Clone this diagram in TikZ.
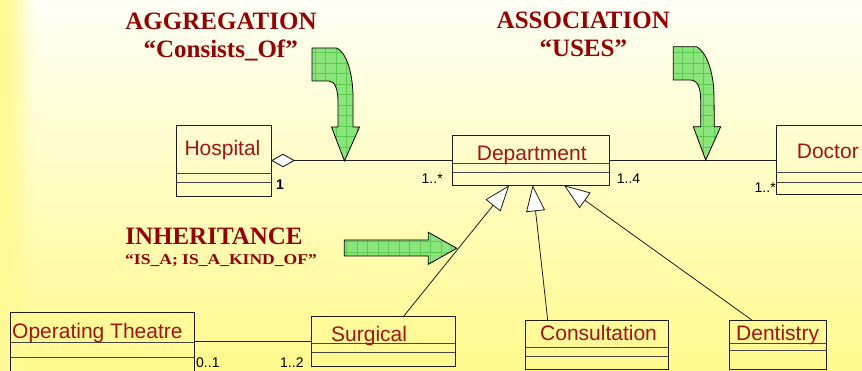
\documentclass[tikz,border=0pt]{standalone}
\usepackage{fontspec}
\setmainfont{Liberation Serif}
\newfontfamily\umlfont{Liberation Sans}
\usetikzlibrary{arrows.meta,fadings}

\definecolor{bgtop}{RGB}{255,255,246}
\definecolor{bgmid}{RGB}{255,255,210}
\definecolor{bgbot}{RGB}{255,250,140}
\definecolor{stripcol}{RGB}{255,250,150}
\definecolor{titlered}{RGB}{150,0,0}
\definecolor{classred}{RGB}{165,20,20}
\definecolor{boxline}{RGB}{30,30,30}
\definecolor{divline}{RGB}{70,70,70}
\definecolor{arrowgreen}{RGB}{140,228,125}
\definecolor{gridgreen}{RGB}{88,205,78}

% green block arrow: fill, clipped grid, outline
\newcommand\gridarrow[1]{%
  \fill[arrowgreen] #1;
  \begin{scope}
    \clip #1;
    \draw[gridgreen, line width=0.5pt, step=10.5pt] (300,30) grid (740,280);
  \end{scope}
  \draw[black, line width=0.8pt, line join=miter] #1;}

\begin{document}
\begin{tikzpicture}[x=1pt, y=-1pt,
  title/.style={font=\bfseries\fontsize{25}{29}\selectfont, text=titlered, inner sep=0pt, anchor=base},
  subtitle/.style={font=\bfseries\fontsize{15}{17}\selectfont, text=titlered, inner sep=0pt, anchor=base},
  classbox/.style={draw=boxline, line width=0.9pt, inner sep=0pt, outer sep=0pt, anchor=north west},
  divider/.style={draw=divline, line width=0.9pt},
  classname/.style={font=\umlfont\fontsize{21}{24}\selectfont, text=classred, inner sep=0pt, anchor=base west},
  mult/.style={font=\umlfont\fontsize{14}{16}\selectfont, inner sep=0pt, anchor=base west},
  link/.style={draw=boxline, line width=0.9pt},
  aggregation/.style={link, {Diamond[open, length=24pt, width=13.5pt, fill=white, line width=0.9pt]}-},
  inherit/.style={link, line width=0.8pt, -{Triangle[open, length=26pt, width=19pt, fill=white, line width=0.8pt]}}
]
\useasboundingbox (0,0) rectangle (862,371);
\begin{scope}
\clip (0,0) rectangle (862,371);

% background
\shade[top color=bgtop, middle color=bgmid, bottom color=bgbot] (0,0) rectangle (862,371);
\fill[stripcol] (0,0) rectangle (8,371);
\fill[stripcol, path fading=east] (8,0) rectangle (34,371);

% headings
\node[title] (aggT) at (221,29.3) {AGGREGATION};
\node[title] (aggS) at (220.7,58) {“Consists\_Of”};
\node[title] (assT) at (583.3,28.3) {ASSOCIATION};
\node[title] (assS) at (583.3,56.7) {“USES”};
\node[title] (inhT) at (214,244.3) {INHERITANCE};
\node[subtitle] (inhS) at (221,264.3) {\scalebox{1.17}[1]{“IS\_A; IS\_A\_KIND\_OF”}};

% classes
\node[classbox, minimum width=95pt, minimum height=71pt] (hosp) at (176,125) {};
\draw[divider] (176,173.3) -- (271,173.3) (176,182.3) -- (271,182.3);
\node[classname] (hospN) at (184.3,156) {Hospital};

\node[classbox, minimum width=156.5pt, minimum height=49.6pt] (dept) at (452.5,135.7) {};
\draw[divider] (452.5,163.3) -- (609,163.3) (452.5,172.3) -- (609,172.3);
\node[classname] (deptN) at (476.7,160.5) {Department};

\node[classbox, minimum width=100pt, minimum height=68.3pt] (doc) at (776,125.7) {};
\draw[divider] (776,172.7) -- (876,172.7) (776,182) -- (876,182);
\node[classname] (docN) at (796.7,158.3) {Doctor};

\node[classbox, minimum width=183.3pt, minimum height=70pt] (ot) at (10.7,312.7) {};
\draw[divider] (10.7,342.7) -- (194,342.7) (10.7,357.7) -- (194,357.7);
\node[classname] (otN) at (12,338.3) {Operating Theatre};

\node[classbox, minimum width=143.3pt, minimum height=49.3pt] (surg) at (311.7,316.7) {};
\draw[divider] (311.7,343.3) -- (455,343.3) (311.7,352.3) -- (455,352.3);
\node[classname] (surgN) at (331,341.7) {Surgical};

\node[classbox, minimum width=142.6pt, minimum height=49.3pt] (cons) at (525.7,320) {};
\draw[divider] (525.7,347.3) -- (668.3,347.3) (525.7,356.7) -- (668.3,356.7);
\node[classname] (consN) at (540,340.7) {Consultation};

\node[classbox, minimum width=97.7pt, minimum height=49.3pt] (dent) at (729,320) {};
\draw[divider] (729,343.3) -- (826.7,343.3) (729,350.7) -- (826.7,350.7);
\node[classname] (dentN) at (736,340.7) {Dentistry};

% associations
\draw[aggregation] (hosp) -- (dept);
\draw[link] (dept.east) -- (dept.east -| doc.west);
\draw[link] (ot.east |- surg.west) -- (surg.west);

% multiplicities
\node[mult, font=\umlfont\bfseries\fontsize{14}{16}\selectfont] (m1) at (276,190) {1};
\node[mult] (m2) at (421.5,184) {1..*};
\node[mult] (m3) at (616.7,184) {1..4};
\node[mult] (m4) at (754.5,192.5) {1..*};
\node[mult] (m5) at (196,367) {0..1};
\node[mult] (m6) at (280,367) {1..2};

% generalisations
\coordinate (gS) at (403.3,316.7);
\coordinate (gC) at (547.7,320);
\coordinate (gD) at (751.7,320);
\coordinate (tS) at (509.3,185.3);
\coordinate (tC) at (532.7,185.3);
\coordinate (tD) at (564,185.3);
\draw[inherit] (gS) -- (tS);
\draw[inherit] (gC) -- (tC);
\draw[inherit] (gD) -- (tD);

% green pointer arrows
\gridarrow{(312,48) -- (336.5,48) .. controls (346,52) and (353,72) .. (353,98) -- (353,127) -- (359.5,127) -- (344.5,161) -- (331.5,127) -- (338,127) -- (338,101) .. controls (338,90) and (335,81) .. (329,81) -- (312,81) -- cycle}
\gridarrow{(673.3,46.7) -- (696.7,46.7) .. controls (706,52) and (713.5,70) .. (714,96) -- (714.3,126.7) -- (720.7,126.7) -- (705.7,160) -- (693.3,126.7) -- (700.7,126.7) -- (700.7,100) .. controls (700.5,88) and (698,80) .. (690,80) -- (673.3,80) -- cycle}
\gridarrow{(344.3,240) -- (428.3,240) -- (428.3,232.3) -- (456.7,248.3) -- (428.3,264.3) -- (428.3,256) -- (344.3,256) -- cycle}
\end{scope}
\end{tikzpicture}
\end{document}
